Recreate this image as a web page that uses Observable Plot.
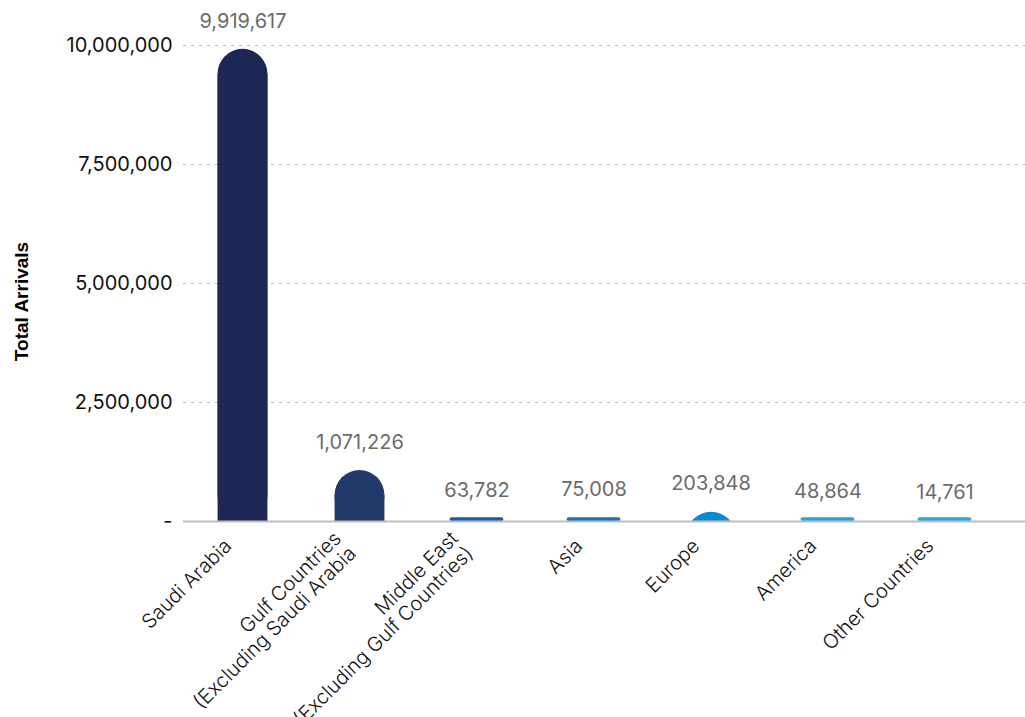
<!DOCTYPE html>
<html>
<head>
<meta charset="utf-8">
<script src="https://cdn.jsdelivr.net/npm/d3@7"></script>
<script src="https://cdn.jsdelivr.net/npm/@observablehq/plot@0.6"></script>
<style>
  html, body { margin: 0; padding: 0; background: #fff; }
  #chart { width: 1025px; height: 717px; }
</style>
</head>
<body>
<div id="chart"></div>
<script>
const regions = [
  "Saudi Arabia",
  "Gulf Countries\n(Excluding Saudi Arabia",
  "Middle East\n(Excluding Gulf Countries)",
  "Asia",
  "Europe",
  "America",
  "Other Countries"
];
const arrivals = [9919617, 1071226, 63782, 75008, 203848, 48864, 14761];
const barColors = ["#1e2656", "#223a6a", "#1d5aab", "#1f6dbb", "#0a8bcc", "#27a4dc", "#28a8df"];
const yTicks = [0, 2500000, 5000000, 7500000, 10000000];
const yTitle = "Total Arrivals";

const data = regions.map((r, i) => ({region: r, value: arrivals[i], color: barColors[i]}));
const tall = data.filter(d => d.value >= 1000000);
const mid = data.filter(d => d.value >= 100000 && d.value < 1000000);
const small = data.filter(d => d.value < 100000);
const fmt = d3.format(",");
const FONT = "Inter, Roboto, 'Liberation Sans', sans-serif";

const W = 1025, ML = 183, XR = 22;
const R = 25;
const step = (W - ML - XR) / regions.length;
const INSET = (step - 2 * R) / 2;

const chart = Plot.plot({
  width: W,
  height: 717,
  marginTop: 45,
  marginBottom: 196,
  marginLeft: ML,
  marginRight: 0,
  style: {fontFamily: FONT, background: "#fff"},
  x: {domain: regions, padding: 0, insetRight: XR, axis: null},
  y: {domain: [0, 10000000], axis: null},
  marks: [
    Plot.ruleY(yTicks.filter(d => d > 0), {stroke: "#bdbdbd", strokeWidth: 1.2, strokeDasharray: "3,5"}),
    Plot.text(yTicks, {
      y: d => d, frameAnchor: "left", dx: -11, textAnchor: "end",
      text: d => d === 0 ? "-" : fmt(d), fontSize: 20, fill: "#111"
    }),
    // tall bars: rounded rect + square-bottom body
    Plot.barY(tall, {x: "region", y1: 0, y2: "value", fill: "color", rx: R, insetLeft: INSET, insetRight: INSET}),
    Plot.barY(tall, {x: "region", y1: 0, y2: "value", fill: "color", insetTop: R, insetLeft: INSET, insetRight: INSET}),
    // short bar: circular cap clipped at the baseline
    Plot.dot(mid, {x: "region", y: "value", r: R, dy: R, fill: "color", stroke: "none", clip: true}),
    // very small bars: thin rounded strips
    Plot.barY(small, {x: "region", y1: 0, y2: d => Math.max(d.value, 80000), fill: "color", rx: 2, insetLeft: INSET - 2, insetRight: INSET - 2}),
    Plot.ruleY([0], {stroke: "#bdbdbd", strokeWidth: 2}),
    Plot.text(data, {
      x: "region", y: "value", text: d => fmt(d.value), dy: -28,
      fontSize: 20, fill: "#6b6b6b", lineAnchor: "middle"
    }),
    Plot.text(data, {
      x: "region", frameAnchor: "bottom", text: "region", rotate: -45,
      textAnchor: "end", lineAnchor: "middle", dx: -15, dy: 21,
      fontSize: 20, fontWeight: 300, fill: "#111", lineHeight: 1.05
    }),
    Plot.text([yTitle], {
      frameAnchor: "left", rotate: -90, dx: -162, dy: 18, textAnchor: "middle",
      text: d => d, fontSize: 19, fontWeight: "bold", fill: "#000",
      fontFamily: "'Liberation Sans', Arial, sans-serif"
    })
  ]
});
document.getElementById("chart").appendChild(chart);
</script>
</body>
</html>
